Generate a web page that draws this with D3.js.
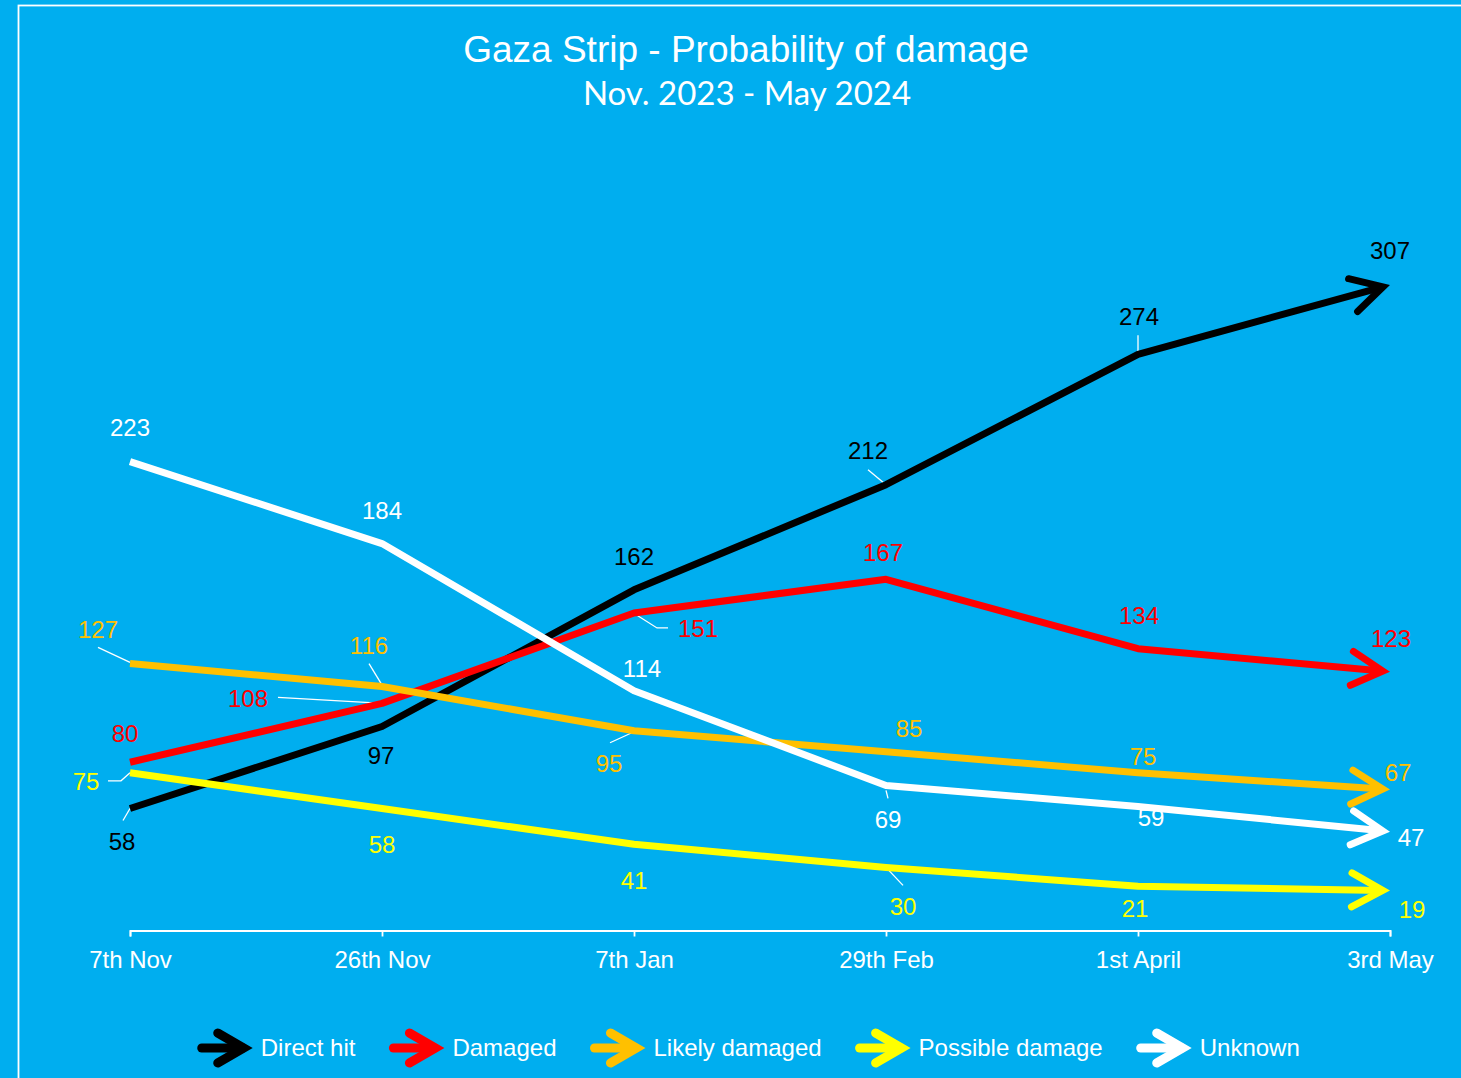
<!DOCTYPE html>
<html>
<head>
<meta charset="utf-8">
<script src="https://cdn.jsdelivr.net/npm/d3@7"></script>
<style>
  html, body { margin: 0; padding: 0; background: #00aeef; }
  svg { display: block; }
  text { font-family: "Liberation Sans", Arial, sans-serif; }
</style>
</head>
<body>
<svg id="chart" width="1461" height="1078"></svg>
<script>
// Data
const dates = ['7th Nov', '26th Nov', '7th Jan', '29th Feb', '1st April', '3rd May'];
const seriesNames = ['Direct hit', 'Damaged', 'Likely damaged', 'Possible damage', 'Unknown'];
const directHit = [58, 97, 162, 212, 274, 307];
const damaged = [80, 108, 151, 167, 134, 123];
const likelyDamaged = [127, 116, 95, 85, 75, 67];
const possibleDamage = [75, 58, 41, 30, 21, 19];
const unknown = [223, 184, 114, 69, 59, 47];

const seriesValues = [directHit, damaged, likelyDamaged, possibleDamage, unknown];
const colours = ['#000000', '#ff0000', '#ffc000', '#ffff00', '#ffffff'];

// Label placement, offsets from the point (px)
const labelOffsets = [
    [[-8, 33], [-1, 29], [0, -33], [-18, -34], [1, -38], [0, -34]],
    [[-5, -29], [-134, -5], [64, 16], [-3, -27], [1, -33], [1, -33]],
    [[-32, -34], [-13, -41], [-25, 33], [23, -23], [5, -16], [8, -17]],
    [[-44, 9], [0, 36], [0, 36], [17, 39], [-3, 22], [22, 19]],
    [[0, -34], [0, -33], [8, -22], [2, 34], [13, 11], [21, 6]]
];
// leader lines: series, point index, path offsets
const leaders = [
    [0, 0, [[-7, 12], [0, 0]]],
    [0, 3, [[-18, -15], [0, 0]]],
    [0, 4, [[0, -19], [0, -2]]],
    [1, 1, [[-104, -6], [1, 0]]],
    [1, 2, [[34, 15], [23, 15], [1, 1]]],
    [2, 0, [[-32, -16], [0, -1]]],
    [2, 1, [[-13, -23], [1, 0]]],
    [2, 2, [[-24, 12], [0, 1]]],
    [3, 0, [[-22, 8], [-9, 8], [0, 0]]],
    [3, 3, [[1, 1], [17, 18]]],
    [4, 3, [[0, 5], [2, 13]]]
];

const svg = d3.select('#chart');
const width = 1461, height = 1078;

svg.append('rect').attr('width', width).attr('height', height).attr('fill', '#00aeef');
// white frame (runs off the right and bottom)
svg.append('rect')
    .attr('x', 18.5).attr('y', 5.5)
    .attr('width', width + 20).attr('height', height + 20)
    .attr('fill', 'none').attr('stroke', '#ffffff').attr('stroke-width', 1.8);

// titles
svg.append('text')
    .attr('x', 746).attr('y', 62)
    .attr('text-anchor', 'middle').attr('fill', '#fff')
    .attr('font-size', 37)
    .text('Gaza Strip - Probability of damage');
svg.append('text')
    .attr('x', 747).attr('y', 105)
    .attr('text-anchor', 'middle').attr('fill', '#fff')
    .style('font-family', 'Lato, "Open Sans", sans-serif')
    .attr('font-size', 33)
    .text('Nov. 2023 - May 2024');

const x = d3.scalePoint().domain(dates).range([130, 1390]);
const y = d3.scaleLinear().domain([0, 350]).range([930.5, 194.5]);

// x axis
const xAxis = svg.append('g')
    .attr('transform', `translate(0,${y(0)})`)
    .call(d3.axisBottom(x).tickSize(6).tickSizeOuter(6).tickPadding(14));
xAxis.select('.domain').attr('stroke', '#fff').attr('stroke-width', 1.8);
xAxis.selectAll('.tick line').attr('stroke', '#fff').attr('stroke-width', 1.8);
xAxis.selectAll('.tick text')
    .attr('fill', '#fff')
    .attr('font-size', 24)
    .style('font-family', '"Liberation Sans", Arial, sans-serif');

// chevron arrow head whose outer (mitered) tip lands on `tip`
function arrowHead(tip, dir, len, half, sw) {
    const ux = dir[0], uy = dir[1];
    const back = (sw / 2) * Math.hypot(len, half) / half; // miter overshoot
    const ax = tip[0] - ux * back, ay = tip[1] - uy * back;
    const a1 = [ax - ux * len - uy * half, ay - uy * len + ux * half];
    const a2 = [ax - ux * len + uy * half, ay - uy * len - ux * half];
    return { path: d3.line()([a1, [ax, ay], a2]), apex: [ax, ay], back };
}

// labels (under the lines, as in the original)
const labelsG = svg.append('g');
seriesValues.forEach((vals, s) => {
    labelsG.selectAll(null).data(vals).join('text')
        .attr('x', (d, i) => x(dates[i]) + labelOffsets[s][i][0])
        .attr('y', (d, i) => y(d) + labelOffsets[s][i][1])
        .attr('dy', '0.35em')
        .attr('text-anchor', 'middle')
        .attr('font-size', 24)
        .attr('fill', colours[s])
        .text(d => d);
});

// leader lines
svg.append('g').selectAll('path').data(leaders).join('path')
    .attr('d', l => {
        const [s, i, pts] = l;
        const px = x(dates[i]), py = y(seriesValues[s][i]);
        return d3.line()(pts.map(p => [px + p[0], py + p[1]]));
    })
    .attr('fill', 'none')
    .attr('stroke', '#fff')
    .attr('stroke-width', 1.3);

// series lines with arrow heads
const linesG = svg.append('g');
seriesValues.forEach((vals, s) => {
    const pts = vals.map((v, i) => [x(dates[i]), y(v)]);
    const n = pts.length;
    const tip = pts[n - 1], prev = pts[n - 2];
    const L = Math.hypot(tip[0] - prev[0], tip[1] - prev[1]);
    const dir = [(tip[0] - prev[0]) / L, (tip[1] - prev[1]) / L];
    const head = arrowHead(tip, dir, 31, 17, 7);
    const linePts = pts.slice(0, n - 1).concat([[head.apex[0] - dir[0], head.apex[1] - dir[1]]]);
    const g = linesG.append('g');
    g.append('path')
        .attr('d', d3.line()(linePts))
        .attr('fill', 'none')
        .attr('stroke', colours[s])
        .attr('stroke-width', 7)
        .attr('stroke-linejoin', 'round');
    g.append('path')
        .attr('d', head.path)
        .attr('fill', 'none')
        .attr('stroke', colours[s])
        .attr('stroke-width', 7)
        .attr('stroke-linecap', 'round')
        .attr('stroke-linejoin', 'miter');
});

// legend
const legend = svg.append('g');
const arrowLen = 51, textGap = 8, itemGap = 38, capR = 4.5;
const items = seriesNames.map((name, i) => {
    const g = legend.append('g');
    const head = arrowHead([arrowLen, 0], [1, 0], 26, 15, 9);
    g.append('path')
        .attr('d', `M0,0L${head.apex[0] - 1},0`)
        .attr('stroke', colours[i])
        .attr('stroke-width', 9)
        .attr('stroke-linecap', 'round');
    g.append('path')
        .attr('d', head.path)
        .attr('fill', 'none')
        .attr('stroke', colours[i])
        .attr('stroke-width', 9)
        .attr('stroke-linecap', 'round')
        .attr('stroke-linejoin', 'miter');
    const t = g.append('text')
        .attr('x', arrowLen + textGap)
        .attr('dy', '0.35em')
        .attr('font-size', 24)
        .attr('fill', '#fff')
        .text(name);
    return { g, w: arrowLen + textGap + t.node().getComputedTextLength() };
});
const total = capR + d3.sum(items, d => d.w) + itemGap * (items.length - 1);
let cx = 748.5 - total / 2 + capR;
items.forEach(it => {
    it.g.attr('transform', `translate(${cx},1048)`);
    cx += it.w + itemGap;
});
</script>
</body>
</html>
